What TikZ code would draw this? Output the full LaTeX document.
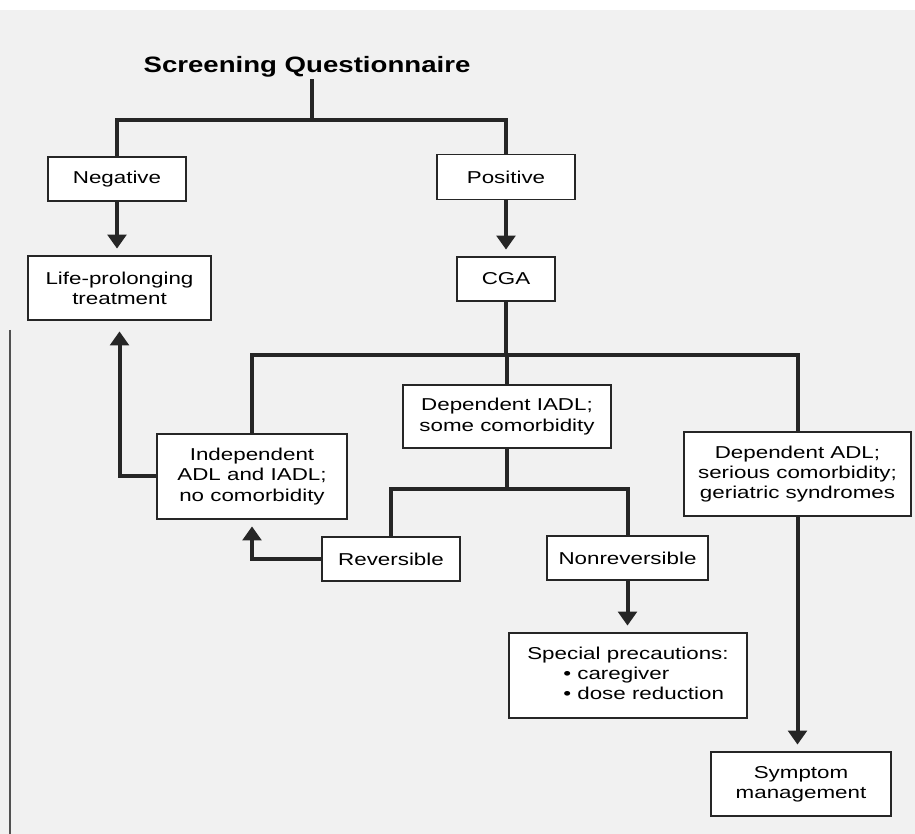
\documentclass[tikz,border=0pt]{standalone}
\usepackage{fontspec}
\setmainfont{Liberation Sans}[FakeStretch=1.3]
\newfontfamily\titlefont{Liberation Sans}[FakeStretch=1.24]
\usetikzlibrary{arrows.meta}
\definecolor{linec}{RGB}{38,38,38}
\definecolor{bgc}{RGB}{241,241,241}
\tikzset{
  conn/.style={draw=linec, line width=3pt, line join=miter},
  arr/.style={conn, -{Triangle[length=10.5pt,width=14pt]}, shorten >=5pt},
  box/.style={draw=linec, line width=1.1pt, fill=white, inner sep=0pt, align=center,
    font=\fontsize{12.9pt}{15.2pt}\selectfont},
  wh/.style 2 args={minimum width=#1*0.75pt, minimum height=#2*0.75pt}
}
\begin{document}
\begin{tikzpicture}[x=0.75pt,y=-0.75pt]
\useasboundingbox (0,0) rectangle (915,834);
\fill[white] (0,0) rectangle (915,834);
\fill[bgc] (0,10) rectangle (915,834);
\draw[line width=0.9pt, linec!80] (10,330) -- (10,834);

\node[inner sep=1pt, font=\titlefont\bfseries\fontsize{16.7pt}{19pt}\selectfont] (title) at (307,67) {Screening Questionnaire};
\coordinate (tb) at (312,120);
\coordinate (b2) at (507,355);
\coordinate (b3) at (507,489);

\node[box, wh={138}{44}] (neg) at (117,179) {Negative};
\node[box, wh={138}{45}] (pos) at (506,177) {Positive};
\node[box, wh={183}{64}] (life) at (119.5,288) {Life-prolonging\\treatment};
\node[box, wh={98}{44}] (cga) at (506,279) {CGA};
\node[box, wh={208}{63}] (depiadl) at (507,416.5) {Dependent IADL;\\some comorbidity};
\node[box, wh={190}{85}] (indep) at (252,476.5) {Independent\\ADL and IADL;\\no comorbidity};
\node[box, wh={227}{84}] (depadl) at (797.5,474) {Dependent ADL;\\serious comorbidity;\\geriatric syndromes};
\node[box, wh={138}{44}] (rev) at (391,559) {Reversible};
\node[box, wh={161}{44}] (nonrev) at (627.5,558) {Nonreversible};
\node[box, wh={238}{85}] (special) at (628,675.5) {\begin{tabular}{@{}l@{}}Special precautions:\\\hspace{27pt}\textbullet\ caregiver\\\hspace{27pt}\textbullet\ dose reduction\end{tabular}};
\node[box, wh={180}{64}] (symptom) at (801,784) {Symptom\\management};

% top branch
\draw[conn] (title.south -| tb) -- (tb);
\draw[conn] (neg.north) -- (neg.north |- tb) -- (pos.north |- tb) -- (pos.north);
\draw[arr] (neg.south) -- (neg.south |- life.north);
\draw[arr] (pos.south) -- (pos.south |- cga.north);

% CGA branches
\draw[conn] (cga.south) -- (cga.south |- b2);
\draw[conn] (indep.north) -- (indep.north |- b2) -- (depadl.north |- b2) -- (depadl.north);
\draw[conn] (depiadl.north |- b2) -- (depiadl.north);

% dependent IADL branches
\draw[conn] (depiadl.south) -- (b3);
\draw[conn] (rev.north) -- (rev.north |- b3) -- (nonrev.north |- b3) -- (nonrev.north);
\draw[arr] (nonrev.south) -- (nonrev.south |- special.north);
\draw[arr] (depadl.south) -- (depadl.south |- symptom.north);

% back arrows
\draw[arr, shorten >=8pt] (indep.west) -| (life.south);
\draw[arr] (rev.west) -| (indep.south);
\end{tikzpicture}
\end{document}
